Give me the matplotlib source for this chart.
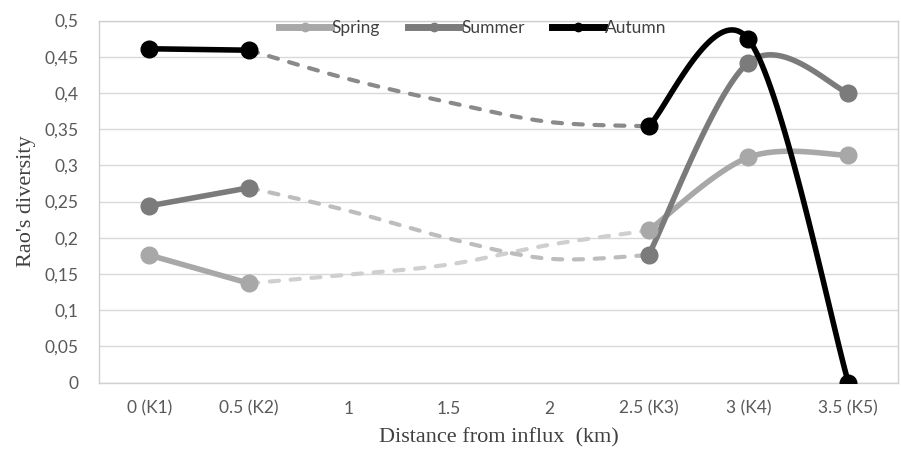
import matplotlib
matplotlib.use("Agg")
import matplotlib.pyplot as plt
from matplotlib.lines import Line2D
from matplotlib.ticker import FuncFormatter
import numpy as np

categories = ["0 (K1)", "0.5 (K2)", "1", "1.5", "2", "2.5 (K3)", "3 (K4)", "3.5 (K5)"]

# measured stations K1..K5 sit at category positions 0, 1, 5, 6, 7
station_pos = [0, 1, 5, 6, 7]
spring = [0.176, 0.137, 0.210, 0.311, 0.314]
summer = [0.244, 0.269, 0.176, 0.442, 0.400]
autumn = [0.461, 0.459, 0.354, 0.474, 0.0]

# dashed bridge between K2 and K3 (values read at 1, 1.5, 2)
gap_pos = [1, 2, 3, 4, 5]
spring_gap = [0.137, 0.149, 0.163, 0.190, 0.210]
summer_gap = [0.269, 0.237, 0.199, 0.171, 0.176]
autumn_gap = [0.459, 0.419, 0.387, 0.360, 0.354]


def smooth(xs, ys, n=40):
    # excel-like smoothed line (catmull-rom bezier, tension 1/6)
    p = np.column_stack([xs, ys]).astype(float)
    if len(p) < 3:
        return p[:, 0], p[:, 1]
    ext = np.vstack([p[0], p, p[-1]])
    out = []
    t = np.linspace(0, 1, n)[:, None]
    for i in range(1, len(ext) - 2):
        p0, p1, p2, p3 = ext[i - 1], ext[i], ext[i + 1], ext[i + 2]
        b1 = p1 + (p2 - p0) / 6
        b2 = p2 - (p3 - p1) / 6
        seg = (1 - t) ** 3 * p1 + 3 * (1 - t) ** 2 * t * b1 + 3 * (1 - t) * t ** 2 * b2 + t ** 3 * p2
        out.append(seg if i == 1 else seg[1:])
    out = np.vstack(out)
    return out[:, 0], out[:, 1]


fig = plt.figure(figsize=(9.01, 4.5), dpi=100)
ax = fig.add_axes([0.1102, 0.15, 0.8868, 0.8044])

series = [
    ("Spring", spring, spring_gap, "#a8a8a8", "#cfcfcf"),
    ("Summer", summer, summer_gap, "#7b7b7b", "#bdbdbd"),
    ("Autumn", autumn, autumn_gap, "#000000", "#8a8a8a"),
]

for name, vals, gap, col, dcol in series:
    gx, gy = smooth(gap_pos, gap)
    ax.plot(gx, gy, color=dcol, lw=3.0, ls=(0, (2.2, 2.8)), dash_capstyle="round", zorder=2)
    # first part K1-K2
    ax.plot(station_pos[:2], vals[:2], color=col, lw=4.0, solid_capstyle="round", zorder=3)
    sx, sy = smooth(station_pos[2:], vals[2:])
    ax.plot(sx, sy, color=col, lw=4.0, solid_capstyle="round", zorder=3)
    ax.plot(station_pos, vals, "o", color=col, ms=12, zorder=4)

ax.set_xlim(-0.5, 7.5)
ax.set_ylim(0, 0.5)
ax.set_xticks(range(len(categories)))
ax.set_xticklabels(categories)
ax.set_yticks(np.arange(0, 0.51, 0.05))
ax.yaxis.set_major_formatter(FuncFormatter(lambda v, p: ("%g" % round(v, 2)).replace(".", ",")))
ax.grid(axis="y", color="#d9d9d9", lw=1)
ax.set_axisbelow(True)
ax.tick_params(length=0, labelsize=12.5, colors="#595959")
ax.tick_params(axis="x", pad=13)
ax.tick_params(axis="y", pad=15)
for lab in ax.get_xticklabels() + ax.get_yticklabels():
    lab.set_family("Lato")
for s in ax.spines.values():
    s.set_color("#d0d0d0")
    s.set_linewidth(1)

ax.set_xlabel("Distance from influx  (km)", family="Liberation Serif", fontsize=16, color="#404040", labelpad=8)
ax.set_ylabel("Rao's diversity", family="Liberation Serif", fontsize=16, color="#404040", labelpad=6)

handles = [Line2D([], [], color=c, lw=5, marker="o", ms=6) for _, _, _, c, _ in series]
leg = ax.legend(handles, [s[0] for s in series], loc="upper center", bbox_to_anchor=(0.4675, 1.045),
                ncol=3, frameon=False, handlelength=3.0, handletextpad=0.05, columnspacing=1.6,
                prop={"family": "Lato", "size": 12.5})
leg.set_zorder(6)
for t in leg.get_texts():
    t.set_color("#404040")

fig.savefig("out.png", dpi=100)
